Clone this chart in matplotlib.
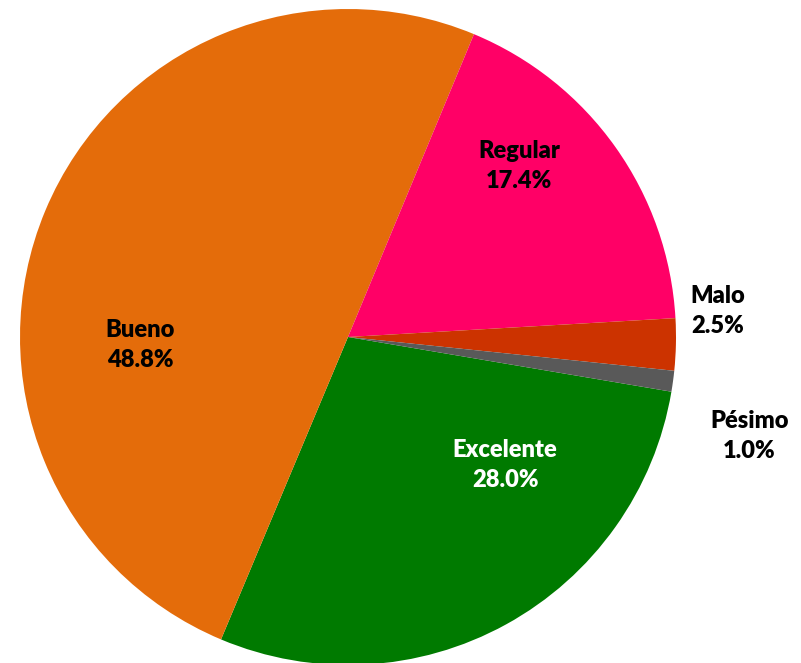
import matplotlib
matplotlib.use("Agg")
from matplotlib import pyplot as plt

# datos de la encuesta
categorias = ["Excelente", "Bueno", "Regular", "Malo", "Pésimo"]
valores = [28.0, 48.8, 17.4, 2.5, 1.0]
colores = ["#007A00", "#E46C0A", "#FF0066", "#CC3300", "#595959"]
color_texto = ["white", "black", "black", "black", "black"]

# posiciones de las etiquetas (coordenadas del pastel, radio 1)
pos_etiquetas = [(0.479, -0.39), (-0.634, -0.024), (0.521, 0.521),
                 (1.128, 0.079), (1.223, -0.302)]

plt.rcParams['font.family'] = ['Lato', 'DejaVu Sans']

fig = plt.figure(figsize=(8.01, 6.63), dpi=100)
cx, cy, r = 348, 337, 328
ax = fig.add_axes([(cx - r) / 801, (663 - cy - r) / 663, 2 * r / 801, 2 * r / 663])

ax.pie(valores, colors=colores, startangle=-9.6, counterclock=False,
       radius=1, wedgeprops=dict(linewidth=0))
ax.set_xlim(-1, 1)
ax.set_ylim(-1, 1)
ax.set_aspect("equal")
ax.axis("off")

for cat, v, (x, y), c in zip(categorias, valores, pos_etiquetas, color_texto):
    ax.text(x, y, f"{cat}\n{v:.1f}%", ha="center", va="center",
            fontsize=17, fontweight="heavy", color=c, linespacing=1.45,
            clip_on=False)

fig.savefig("out.png", dpi=100)
